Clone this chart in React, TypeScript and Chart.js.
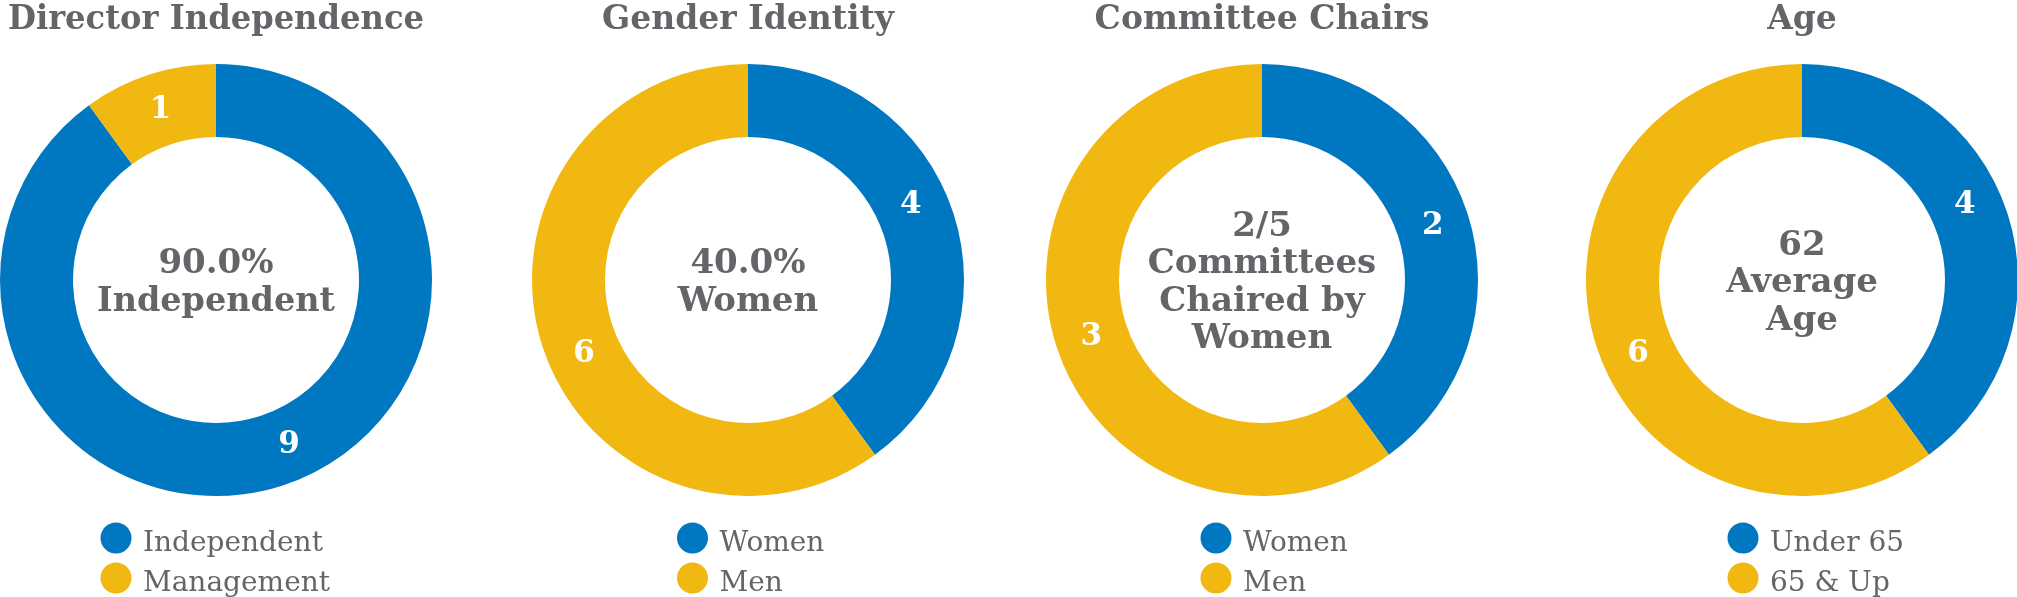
import React, { useEffect, useRef } from 'react';
import { Chart, registerables } from 'chart.js';

Chart.register(...registerables);

// ---- data ----
const chartTitles = ['Director Independence', 'Gender Identity', 'Committee Chairs', 'Age'];

const independenceLabels = ['Independent', 'Management'];
const independenceValues = [9, 1];

const genderLabels = ['Women', 'Men'];
const genderValues = [4, 6];

const chairLabels = ['Women', 'Men'];
const chairValues = [2, 3];

const ageLabels = ['Under 65', '65 & Up'];
const ageValues = [4, 6];

const independenceCenter = ['90.0%', 'Independent'];
const genderCenter = ['40.0%', 'Women'];
const chairCenter = ['2/5', 'Committees', 'Chaired by', 'Women'];
const ageCenter = ['62', 'Average', 'Age'];

// ---- style ----
const BLUE = '#0077C1';
const YELLOW = '#F1B811';
const GRAY = '#636568';
const FONT = '"DejaVu Serif", "Liberation Serif", serif';

const OUTER_R = 216;
const CANVAS_W = 432;
const CANVAS_H = 597;
const TOP = 64;

interface DonutProps {
  title: string;
  labels: string[];
  values: number[];
  centerLines: string[];
  centerX: number;
  legendOffset: number;
  labelAngleOffsets: number[];
}

const overlayPlugin = {
  id: 'donutOverlay',
  afterDraw(chart: any, _args: any, opts: any) {
    const ctx: CanvasRenderingContext2D = chart.ctx;
    const meta = chart.getDatasetMeta(0);
    const first = meta.data[0];
    if (!first) return;
    const cx = first.x;
    const cy = first.y;
    const W = chart.width;
    ctx.save();

    // title
    ctx.fillStyle = GRAY;
    ctx.textAlign = 'center';
    ctx.textBaseline = 'alphabetic';
    ctx.font = `bold 33px ${FONT}`;
    ctx.fillText(opts.title, W / 2, 29, W - 16);

    // center text
    const lines: string[] = opts.centerLines;
    const lh = 37.5;
    ctx.font = `bold 34px ${FONT}`;
    const firstBase = cy + 12 - ((lines.length - 1) * lh) / 2;
    lines.forEach((ln, i) => {
      ctx.fillText(ln, cx, firstBase + i * lh, 2 * first.innerRadius - 48);
    });

    // segment value labels
    ctx.fillStyle = '#ffffff';
    ctx.font = `bold 31px ${FONT}`;
    ctx.textBaseline = 'middle';
    const ds = chart.data.datasets[0];
    meta.data.forEach((arc: any, i: number) => {
      const p = arc.getProps(['startAngle', 'endAngle', 'innerRadius', 'outerRadius', 'x', 'y'], true);
      const off = ((opts.labelAngleOffsets[i] || 0) * Math.PI) / 180;
      const mid = (p.startAngle + p.endAngle) / 2 + off;
      const r = (p.innerRadius + p.outerRadius) / 2;
      ctx.fillText(String(ds.data[i]), p.x + Math.cos(mid) * r, p.y + Math.sin(mid) * r + 1);
    });

    // legend
    const colors: string[] = ds.backgroundColor;
    const lx = cx + opts.legendOffset;
    ctx.textAlign = 'left';
    ctx.textBaseline = 'alphabetic';
    ctx.font = `28px ${FONT}`;
    chart.data.labels.forEach((lab: string, i: number) => {
      const yc = 538 + i * 40;
      ctx.fillStyle = colors[i];
      ctx.beginPath();
      ctx.arc(lx, yc, 15.5, 0, Math.PI * 2);
      ctx.fill();
      ctx.fillStyle = GRAY;
      ctx.fillText(lab, lx + 27, yc + 13);
    });

    ctx.restore();
  },
};

function Donut(props: DonutProps) {
  const ref = useRef<HTMLCanvasElement | null>(null);
  useEffect(() => {
    if (!ref.current) return;
    const chart = new Chart(ref.current, {
      type: 'doughnut',
      data: {
        labels: props.labels,
        datasets: [
          {
            data: props.values,
            backgroundColor: [BLUE, YELLOW],
            borderWidth: 0,
            hoverOffset: 0,
          },
        ],
      },
      options: {
        responsive: true,
        maintainAspectRatio: false,
        animation: false,
        cutout: '66.2%',
        layout: { padding: { top: TOP, bottom: CANVAS_H - TOP - 2 * OUTER_R, left: 0, right: 0 } },
        events: [],
        plugins: {
          legend: { display: false },
          tooltip: { enabled: false },
          title: { display: false },
          donutOverlay: {
            title: props.title,
            centerLines: props.centerLines,
            legendOffset: props.legendOffset,
            labelAngleOffsets: props.labelAngleOffsets,
          },
        } as any,
      },
      plugins: [overlayPlugin as any],
    });
    return () => chart.destroy();
  }, []);
  return (
    <div
      style={{
        position: 'absolute',
        left: props.centerX - CANVAS_W / 2,
        top: 0,
        width: CANVAS_W,
        height: CANVAS_H,
      }}
    >
      <canvas ref={ref} />
    </div>
  );
}

export default function App() {
  useEffect(() => {
    document.body.style.margin = '0';
    document.body.style.overflow = 'hidden';
  }, []);
  return (
    <div style={{ position: 'relative', width: 2017, height: 597, overflow: 'hidden', background: '#fff' }}>
      <Donut
        title={chartTitles[0]}
        labels={independenceLabels}
        values={independenceValues}
        centerLines={independenceCenter}
        centerX={216}
        legendOffset={-100}
        labelAngleOffsets={[-6, 0]}
      />
      <Donut
        title={chartTitles[1]}
        labels={genderLabels}
        values={genderValues}
        centerLines={genderCenter}
        centerX={747.5}
        legendOffset={-55.5}
        labelAngleOffsets={[-7, -6]}
      />
      <Donut
        title={chartTitles[2]}
        labels={chairLabels}
        values={chairValues}
        centerLines={chairCenter}
        centerX={1262}
        legendOffset={-46}
        labelAngleOffsets={[0, 0]}
      />
      <Donut
        title={chartTitles[3]}
        labels={ageLabels}
        values={ageValues}
        centerLines={ageCenter}
        centerX={1802}
        legendOffset={-59}
        labelAngleOffsets={[-7, -6]}
      />
    </div>
  );
}
